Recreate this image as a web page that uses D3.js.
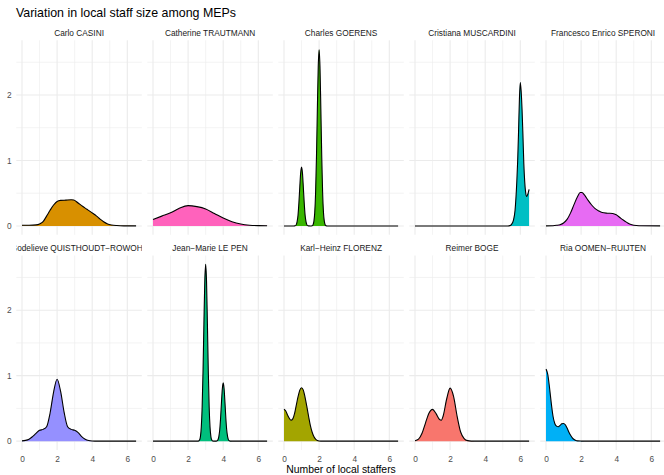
<!DOCTYPE html>
<html><head><meta charset="utf-8">
<script src="https://cdn.jsdelivr.net/npm/d3@7"></script>
<style>body{margin:0;background:#fff} svg{display:block} text{font-family:"Liberation Sans",Arial,Helvetica,sans-serif}</style>
</head><body><svg id="chart" width="664" height="475"></svg>
<script>
// ---------- data ----------
const names = ["Carlo CASINI","Catherine TRAUTMANN","Charles GOERENS","Cristiana MUSCARDINI","Francesco Enrico SPERONI",
  "Godelieve QUISTHOUDT\u2212ROWOHL","Jean\u2212Marie LE PEN","Karl\u2212Heinz FLORENZ","Reimer BOGE","Ria OOMEN\u2212RUIJTEN"];
const fillColors = ["#D89000","#FF62BC","#39B600","#00BFC4","#E76BF3","#9590FF","#00BF7D","#A3A500","#F8766D","#00B0F6"];
const xTicks = [0,2,4,6];
const xMinor = [1,3,5];
const yTicks = [0,1,2];
const yMinor = [0.5,1.5,2.5];
const chartTitle = "Variation in local staff size among MEPs";
const xTitle = "Number of local staffers";

const densCarlo = [[0,0.01],[0.4,0.011],[0.8,0.016],[1.0,0.03],[1.1,0.045],[1.2,0.066],[1.4,0.15],[1.6,0.24],[1.8,0.32],[2.0,0.375],[2.2,0.39],[2.5,0.395],[2.8,0.40],[2.95,0.395],[3.2,0.35],[3.45,0.30],[3.7,0.255],[4.05,0.19],[4.25,0.15],[4.45,0.105],[4.65,0.065],[4.85,0.035],[5.1,0.015],[5.4,0.006],[5.8,0.002],[6.5,0.001]];
const densCatherine = [[0,0.10],[0.5,0.15],[1.0,0.20],[1.5,0.27],[2.0,0.31],[2.5,0.295],[3.0,0.26],[3.5,0.19],[4.0,0.12],[4.5,0.065],[5.0,0.03],[5.5,0.012],[6.0,0.005],[6.5,0.003]];
const densCharles = [[0,0],[0.55,0],[0.6,0.001],[0.65,0.005],[0.7,0.02],[0.75,0.07],[0.8,0.17],[0.85,0.36],[0.9,0.60],[0.95,0.81],[1.0,0.90],[1.05,0.81],[1.1,0.60],[1.15,0.36],[1.2,0.17],[1.25,0.07],[1.3,0.02],[1.35,0.005],[1.4,0.001],[1.5,0],[1.6,0.003],[1.65,0.016],[1.7,0.065],[1.75,0.20],[1.8,0.51],[1.85,1.06],[1.9,1.78],[1.95,2.43],[2.0,2.69],[2.05,2.43],[2.1,1.78],[2.15,1.06],[2.2,0.51],[2.25,0.20],[2.3,0.065],[2.35,0.016],[2.4,0.003],[2.45,0],[6.5,0]];
const densCristiana = [[0,0],[5.3,0],[5.4,0.005],[5.5,0.025],[5.6,0.08],[5.7,0.24],[5.8,0.68],[5.85,1.0],[5.9,1.45],[5.95,1.95],[6.0,2.19],[6.05,2.05],[6.1,1.77],[6.15,1.38],[6.2,0.95],[6.25,0.68],[6.3,0.52],[6.36,0.45],[6.42,0.48],[6.5,0.56]];
const densFrancesco = [[0,0.001],[0.4,0.004],[0.6,0.01],[0.8,0.02],[1.0,0.045],[1.2,0.10],[1.4,0.20],[1.6,0.33],[1.8,0.45],[1.95,0.51],[2.05,0.51],[2.2,0.47],[2.4,0.39],[2.6,0.32],[2.8,0.265],[3.0,0.23],[3.2,0.205],[3.5,0.195],[3.8,0.19],[4.0,0.17],[4.2,0.13],[4.4,0.09],[4.6,0.055],[4.8,0.025],[5.0,0.01],[5.3,0.003],[6.5,0.001]];
const densGodelieve = [[0,0.005],[0.2,0.012],[0.4,0.03],[0.6,0.07],[0.8,0.12],[1.0,0.165],[1.2,0.18],[1.4,0.22],[1.6,0.43],[1.8,0.75],[2.0,0.945],[2.2,0.76],[2.4,0.44],[2.6,0.22],[2.8,0.18],[3.0,0.165],[3.2,0.13],[3.4,0.07],[3.6,0.03],[3.8,0.01],[4.0,0.003],[4.3,0],[6.5,0]];
const densJeanMarie = [[0,0],[2.55,0],[2.6,0.003],[2.65,0.016],[2.7,0.065],[2.75,0.21],[2.8,0.52],[2.85,1.07],[2.9,1.79],[2.95,2.44],[3.0,2.70],[3.05,2.44],[3.1,1.79],[3.15,1.07],[3.2,0.52],[3.25,0.21],[3.3,0.065],[3.35,0.016],[3.4,0.003],[3.5,0],[3.6,0.001],[3.65,0.005],[3.7,0.02],[3.75,0.07],[3.8,0.17],[3.85,0.35],[3.9,0.59],[3.95,0.80],[4.0,0.89],[4.05,0.80],[4.1,0.59],[4.15,0.35],[4.2,0.17],[4.25,0.07],[4.3,0.02],[4.35,0.005],[4.4,0.001],[4.5,0],[6.5,0]];
const densKarlHeinz = [[0,0.49],[0.1,0.46],[0.2,0.40],[0.3,0.35],[0.4,0.32],[0.5,0.34],[0.6,0.42],[0.7,0.55],[0.8,0.68],[0.9,0.78],[1.0,0.815],[1.1,0.78],[1.2,0.67],[1.3,0.53],[1.4,0.38],[1.5,0.24],[1.6,0.14],[1.7,0.07],[1.8,0.03],[1.9,0.01],[2.0,0.003],[2.2,0],[6.5,0]];
const densReimer = [[0,0.005],[0.2,0.03],[0.4,0.12],[0.6,0.28],[0.8,0.43],[1.0,0.485],[1.2,0.42],[1.4,0.33],[1.5,0.32],[1.6,0.38],[1.8,0.64],[2.0,0.81],[2.2,0.68],[2.4,0.38],[2.6,0.14],[2.8,0.04],[3.0,0.008],[3.2,0.001],[3.4,0],[6.5,0]];
const densRia = [[0,1.10],[0.1,1.02],[0.2,0.82],[0.3,0.58],[0.4,0.38],[0.5,0.27],[0.6,0.23],[0.7,0.22],[0.8,0.24],[0.9,0.265],[1.0,0.27],[1.1,0.25],[1.2,0.20],[1.3,0.14],[1.4,0.09],[1.5,0.05],[1.6,0.025],[1.7,0.01],[1.8,0.004],[2.0,0.001],[2.2,0],[6.5,0]];
const series = [densCarlo,densCatherine,densCharles,densCristiana,densFrancesco,densGodelieve,densJeanMarie,densKarlHeinz,densReimer,densRia];

// ---------- layout ----------
const svg = d3.select("#chart");
const xDomain = [-0.325, 6.825], yDomain = [-0.135, 2.835];
const firstLeft = 16.3, colStep = 131, panelW = 125.5, panelH = 194.5;
const rowTops = [40.3, 255.5];
const stripBase = [36.3, 251.3];
const gridCol = "#EBEBEB";
const fillScale = d3.scaleOrdinal(names, fillColors);

svg.append("text").attr("x", 16).attr("y", 17.3).attr("font-size", 12.4).attr("fill", "#000").text(chartTitle);

const defs = svg.append("defs");

names.forEach((name, i) => {
  const row = Math.floor(i / 5), col = i % 5;
  const left = firstLeft + col * colStep, top = rowTops[row];
  const x = d3.scaleLinear().domain(xDomain).range([left, left + panelW]);
  const y = d3.scaleLinear().domain(yDomain).range([top + panelH, top]);
  const g = svg.append("g");

  // grid
  g.selectAll(".ymin").data(yMinor).join("line")
    .attr("x1", left).attr("x2", left + panelW).attr("y1", d => y(d)).attr("y2", d => y(d))
    .attr("stroke", gridCol).attr("stroke-width", 0.6);
  g.selectAll(".xmin").data(xMinor).join("line")
    .attr("y1", top).attr("y2", top + panelH).attr("x1", d => x(d)).attr("x2", d => x(d))
    .attr("stroke", gridCol).attr("stroke-width", 0.6);
  g.selectAll(".ymaj").data(yTicks).join("line")
    .attr("x1", left).attr("x2", left + panelW).attr("y1", d => y(d)).attr("y2", d => y(d))
    .attr("stroke", gridCol).attr("stroke-width", 1.1);
  g.selectAll(".xmaj").data(xTicks).join("line")
    .attr("y1", top).attr("y2", top + panelH).attr("x1", d => x(d)).attr("x2", d => x(d))
    .attr("stroke", gridCol).attr("stroke-width", 1.1);

  // density
  const clipId = "clip" + i;
  defs.append("clipPath").attr("id", clipId).append("rect")
    .attr("x", left).attr("y", top).attr("width", panelW).attr("height", panelH);
  const area = d3.area().x(d => x(d[0])).y0(y(0)).y1(d => y(d[1])).curve(d3.curveMonotoneX);
  const line = d3.line().x(d => x(d[0])).y(d => y(d[1])).curve(d3.curveMonotoneX);
  const pg = g.append("g").attr("clip-path", `url(#${clipId})`);
  pg.append("path").attr("d", area(series[i])).attr("fill", fillScale(name));
  pg.append("path").attr("d", line(series[i])).attr("fill", "none").attr("stroke", "#000").attr("stroke-width", 1.1);

  // strip label
  const sclip = "sclip" + i;
  defs.append("clipPath").attr("id", sclip).append("rect")
    .attr("x", left).attr("y", top - 16).attr("width", panelW).attr("height", 16);
  g.append("text").attr("clip-path", `url(#${sclip})`)
    .attr("x", left + panelW / 2).attr("y", stripBase[row]).attr("text-anchor", "middle")
    .attr("font-size", 8.3).attr("fill", "#1A1A1A").text(name);

  // axes
  if (col === 0) {
    const ay = svg.append("g").attr("transform", `translate(${left},0)`)
      .call(d3.axisLeft(y).tickValues(yTicks).tickSize(0).tickPadding(4.8).tickFormat(d3.format("d")));
    ay.select(".domain").remove();
    ay.selectAll("text").attr("font-size", 8.3).attr("fill", "#4D4D4D").attr("font-family", null);
  }
  if (row === 1) {
    const ax = svg.append("g").attr("transform", `translate(0,${top + panelH})`)
      .call(d3.axisBottom(x).tickValues(xTicks).tickSize(0).tickPadding(6).tickFormat(d3.format("d")));
    ax.select(".domain").remove();
    ax.selectAll("text").attr("font-size", 8.3).attr("fill", "#4D4D4D").attr("font-family", null);
  }
});

svg.append("text").attr("x", firstLeft + (4 * colStep + panelW) / 2).attr("y", 473)
  .attr("text-anchor", "middle").attr("font-size", 10.4).attr("fill", "#000").text(xTitle);
</script></body></html>
